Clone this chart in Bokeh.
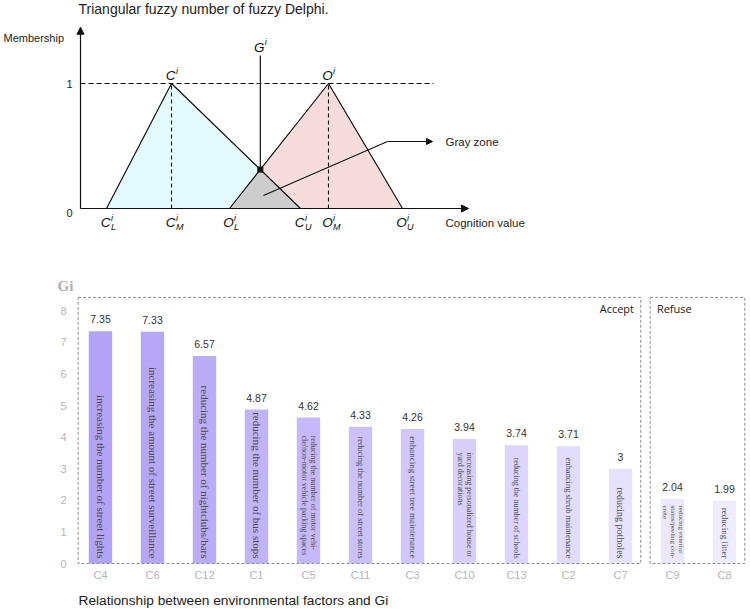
import math
from bokeh.plotting import figure
from bokeh.models import Range1d, Arrow, NormalHead, ColumnDataSource
from bokeh.core.properties import value
from bokeh.embed import file_html
from bokeh.resources import INLINE

# ---------------- data ----------------
# triangular fuzzy numbers (cognition value): lower, middle, upper
conservative = [0.65, 2.275, 5.5]   # C_L, C_M, C_U
optimistic = [3.725, 6.2, 8.05]     # O_L, O_M, O_U

factors = ["C4", "C6", "C12", "C1", "C5", "C11", "C3", "C10", "C13", "C2", "C7", "C9", "C8"]
gi_values = [7.35, 7.33, 6.57, 4.87, 4.62, 4.33, 4.26, 3.94, 3.74, 3.71, 3.0, 2.04, 1.99]
descriptions = [
    "increasing the number of street lights",
    "increasing the amount of street surveillance",
    "reducing the number of nightclubs/bars",
    "reducing the number of bus stops",
    "reducing the number of motor vehi-\ncle/non-motor vehicle parking spaces",
    "reducing the number of street stores",
    "enhancing street tree maintenance",
    "increasing personalized house or\nyard decorations",
    "reducing the number of schools",
    "enhancing shrub maintenance",
    "reducing potholes",
    "reducing exterior\nstains/peeling con-\ncrete",
    "reducing litter",
]
decision = ["Accept"] * 11 + ["Refuse"] * 2
y_ticks = [0, 1, 2, 3, 4, 5, 6, 7, 8]

# ---------------- styling ----------------
bar_colors = ["#b3a3f6", "#b6a7f6", "#bbacf7", "#c1b3f8", "#c6b9f9", "#ccc0f9",
              "#d1c7fa", "#d8cffb", "#ddd5fb", "#e1dbfc", "#e7e2fd", "#ebe7fd", "#efecfe"]
desc_sizes = ["11px", "11px", "11px", "11px", "8px", "8.5px", "9px", "8px",
              "8px", "8.5px", "10px", "7px", "9px"]
desc_inset_px = [None, None, None, None, 18, None, None, 13.5, None, None, None, 6.5, None]

SANS = "Liberation Sans"
SERIF = "Liberation Serif"
INK = "#111111"
W, H = 750, 611

# bar chart scale: 52 px per factor, 31.6 px per Gi unit
BX, BY = 52.0, 31.6
bx0, by0 = 100.0, 563.0            # pixel position of (first factor, Gi = 0)
# diagram scale: 40 px per cognition unit, 125 px per membership unit
DX, DY = 40.0, 125.0
dx0, dy0 = 80.0, 208.0             # pixel position of the diagram origin

p = figure(width=W, height=H,
           x_range=Range1d(-bx0 / BX, (W - bx0) / BX),
           y_range=Range1d(-(H - by0) / BY, by0 / BY),
           output_backend="svg", toolbar_location=None, min_border=0,
           x_axis_location=None, y_axis_location=None)
p.extra_x_ranges = {"dx": Range1d(-dx0 / DX, (W - dx0) / DX)}
p.extra_y_ranges = {"dy": Range1d(-(H - dy0) / DY, dy0 / DY)}
p.grid.visible = False
p.outline_line_color = None

D = dict(x_range_name="dx", y_range_name="dy")

# ======================================================================
# Triangular fuzzy number diagram
# ======================================================================
cL, cM, cU = conservative
oL, oM, oU = optimistic
# intersection of the falling edge of C and the rising edge of O
gx = (cU * (oM - oL) + oL * (cU - cM)) / ((oM - oL) + (cU - cM))
gy = (cU - gx) / (cU - cM)

p.patch([cL, cM, cU], [0, 1, 0], fill_color="#e4fbfd", line_color=None, **D)
p.patch([oL, oM, oU], [0, 1, 0], fill_color="#f7dcdc", line_color=None, **D)
p.patch([oL, gx, cU], [0, gy, 0], fill_color="#cdcdcd", line_color=None, **D)

p.line([cL, cM, cU], [0, 1, 0], line_color=INK, line_width=1.2, **D)
p.line([oL, oM, oU], [0, 1, 0], line_color=INK, line_width=1.2, **D)
p.line([cM, cM], [0, 1], line_color=INK, line_width=1.1, line_dash="4 3", **D)
p.line([oM, oM], [0, 1], line_color=INK, line_width=1.1, line_dash="4 3", **D)
p.line([0, 8.825], [1, 1], line_color=INK, line_width=1.1, line_dash="5 3", **D)


def arrow(x0, y0, x1, y1, size=7, width=1.2):
    p.add_layout(Arrow(end=NormalHead(size=size, fill_color=INK, line_color=INK),
                       x_start=x0, y_start=y0, x_end=x1, y_end=y1,
                       line_width=width, line_color=INK, **D))


arrow(0, 0, 0, 1.45)
arrow(0, 0, 9.7, 0)

# G line and intersection point
p.line([gx, gx], [gy, 1.224], line_color=INK, line_width=1.2, **D)
p.scatter([gx], [gy], marker="square", size=5, fill_color=INK, line_color=INK, **D)

# pointer to the gray zone
cx = (oL + gx + cU) / 3.0
cy = gy / 3.0
bend_x, bend_y = 7.675, 0.536
p.line([cx, bend_x], [cy, bend_y], line_color=INK, line_width=1.1, **D)
arrow(bend_x, bend_y, 8.8, bend_y, size=6, width=1.1)


def dtext(x, y, txt, align="left", size="11px", style="normal", font=SANS, color="#222222"):
    p.text([x], [y], text=[txt], text_align=align, text_baseline="middle",
           text_font=value(font), text_font_style=style, text_font_size=size,
           text_color=color, **D)


def symbol(x, y, base, sup=None, sub=None):
    dtext(x - 1 / DX, y, base, "center", "13.5px", "italic", color=INK)
    if sup:
        dtext(x + 4.5 / DX, y + 5 / DY, sup, "left", "9px", "italic", color=INK)
    if sub:
        dtext(x + 4.5 / DX, y - 4 / DY, sub, "left", "9px", "italic", color=INK)


tick_y = -14 / DY
symbol(cL, tick_y, "C", "i", "L")
symbol(cM, tick_y, "C", "i", "M")
symbol(oL, tick_y, "O", "i", "L")
symbol(cU, tick_y, "C", "i", "U")
symbol(oM, tick_y, "O", "i", "M")
symbol(oU, tick_y, "O", "i", "U")
symbol(cM, 1 + 8 / DY, "C", "i")
symbol(oM, 1 + 8 / DY, "O", "i")
symbol(gx, 1.29, "G", "i")

dtext(-77 / DX, 171 / DY, "Membership")
dtext(-8 / DX, 1.0, "1", "right")
dtext(-8 / DX, -4 / DY, "0", "right")
dtext(9.125, bend_y, "Gray  zone", size="11.5px")
dtext(9.125, tick_y, "Cognition  value", size="11.5px")
dtext(-2 / DX, 200 / DY, "Triangular fuzzy number of fuzzy Delphi.", size="14px")

# ======================================================================
# Gi of each environmental factor
# ======================================================================
idx = list(range(len(factors)))
src = ColumnDataSource(dict(
    x=idx, gi=gi_values, color=bar_colors, name=factors,
    label=[f"{v:g}" for v in gi_values],
    label_y=[v + 12 / BY for v in gi_values],
))
p.vbar(x="x", top="gi", width=0.45, fill_color="color", line_color=None, source=src)
p.text(x="x", y="label_y", text="label", source=src, text_align="center", text_baseline="middle",
       text_font=value(SANS), text_font_size="10.5px", text_color="#333333")

# descriptions written inside the bars
single = [i for i in idx if "\n" not in descriptions[i]]
multi = [i for i in idx if "\n" in descriptions[i]]
p.text(x=single, y=[5 / BY] * len(single), text=[descriptions[i] for i in single],
       angle=-math.pi / 2, text_align="right", text_baseline="middle",
       text_font=value(SERIF), text_font_size=[desc_sizes[i] for i in single],
       text_color="#4a4a4a")
p.text(x=multi, y=[gi_values[i] - desc_inset_px[i] / BY for i in multi],
       text=[descriptions[i] for i in multi],
       angle=-math.pi / 2, text_align="left", text_baseline="middle", text_line_height=1.0,
       text_font=value(SERIF), text_font_size=[desc_sizes[i] for i in multi],
       text_color="#4a4a4a")

# dashed frames around the Accept / Refuse groups
pad_l, pad_r = 0.43, 0.39
lefts, rights, names = [], [], []
for g in ["Accept", "Refuse"]:
    members = [i for i in idx if decision[i] == g]
    lefts.append(min(members) - pad_l)
    rights.append(max(members) + pad_r)
    names.append(g)
box_top = 8.42
p.quad(left=lefts, right=rights, bottom=[0, 0], top=[box_top, box_top], fill_color=None,
       line_color="#8c8c8c", line_width=1, line_dash="3 2")
p.text(x=[rights[0] - 0.13, lefts[1] + 0.13], y=[box_top - 11 / BY] * 2, text=names,
       text_align=["right", "left"], text_baseline="middle", text_font=value("Open Sans"),
       text_font_size="11px", text_color="#222222")

# tick labels of both axes
p.text(x=[-37 / BX] * len(y_ticks), y=y_ticks, text=[str(t) for t in y_ticks],
       text_align="center", text_baseline="middle", text_font=value(SANS),
       text_font_size="11px", text_color="#b5b5b5")
p.text(x=idx, y=[-11 / BY] * len(idx), text=factors,
       text_align="center", text_baseline="middle", text_font=value(SANS),
       text_font_size="11px", text_color="#b5b5b5")

p.text(x=[-43 / BX], y=[278 / BY], text=["Gi"], text_align="left", text_baseline="middle",
       text_font=value(SERIF), text_font_style="bold", text_font_size="15px",
       text_color="#b0b0b0")
p.text(x=[-22 / BX], y=[-37 / BY], text=["Relationship between environmental factors and Gi"],
       text_align="left", text_baseline="middle", text_font=value(SANS),
       text_font_size="13.7px", text_color="#222222")

open("out.html", "w").write(file_html(p, INLINE))
